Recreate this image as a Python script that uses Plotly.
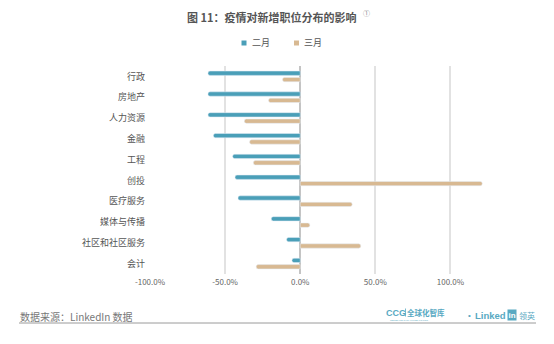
import plotly.graph_objects as go

# Job categories, top to bottom
categories = ["行政", "房地产", "人力资源", "金融", "工程", "创投",
              "医疗服务", "媒体与传播", "社区和社区服务", "会计"]
# Change in new job postings (%)
feb = [-61.4, -61.4, -61.4, -57.8, -45.0, -43.4, -41.4, -19.3, -9.1, -5.5]
mar = [-11.8, -21.1, -37.2, -33.7, -31.2, 121.2, 34.6, 6.4, 40.3, -29.3]
series_names = ["二月", "三月"]
x_ticks = [-100, -50, 0, 50, 100]
x_tick_text = ["-100.0%", "-50.0%", "0.0%", "50.0%", "100.0%"]

W, H = 554, 344
ML, MR, MT, MB = 150, 54, 66, 70
PW, PH = W - ML - MR, H - MT - MB

BLUE = "#4a9fb8"
TAN = "#d8b992"
TEAL = "#58a9c2"
FONT = "Noto Sans CJK SC"


def px(x):
    return (x - ML) / PW


def py(y):
    return (H - MB - y) / PH


fig = go.Figure()
for name, vals, col in zip(series_names, [feb, mar], [BLUE, TAN]):
    fig.add_trace(go.Bar(y=categories, x=vals, name=name, orientation="h",
                         marker=dict(color=col, cornerradius=2)))

annotations = [
    dict(x=px(271), y=py(17), text="<b>图 11：疫情对新增职位分布的影响</b>",
         font=dict(size=11, color="#555555", family=FONT)),
    dict(x=px(366), y=py(13), text="①",
         font=dict(size=7, color="#888888", family=FONT)),
    # legend entries
    dict(x=px(250), y=py(43), text=series_names[0], xanchor="left",
         font=dict(size=9, color="#555555", family=FONT)),
    dict(x=px(302), y=py(43), text=series_names[1], xanchor="left",
         font=dict(size=9, color="#555555", family=FONT)),
    # footer
    dict(x=px(18), y=py(316), text="数据来源：LinkedIn 数据", xanchor="left",
         font=dict(size=10, color="#777777", family=FONT)),
    dict(x=px(396), y=py(312.5), text="<b>CCG</b>",
         font=dict(size=9, color=TEAL, family="Liberation Sans")),
    dict(x=px(388), y=py(320), text="CENTER FOR CHINA &amp; GLOBALIZATION",
         xanchor="left", font=dict(size=2, color=TEAL, family="Liberation Sans")),
    dict(x=px(425.5), y=py(312.5), text="<b>全球化智库</b>",
         font=dict(size=7.5, color=TEAL, family=FONT)),
    dict(x=px(469), y=py(315), text="•",
         font=dict(size=8, color=TEAL, family="Liberation Sans")),
    dict(x=px(490), y=py(315), text="<b>Linked</b>",
         font=dict(size=9.5, color=TEAL, family="Liberation Sans")),
    dict(x=px(512), y=py(315), text="<b>in</b>", bgcolor=TEAL,
         font=dict(size=8, color="white", family="Liberation Sans"),
         borderpad=0.5),
    dict(x=px(527), y=py(315), text="领英",
         font=dict(size=8, color=TEAL, family=FONT)),
]
for a in annotations:
    a.update(xref="paper", yref="paper", showarrow=False)
    a.setdefault("xanchor", "center")
    a.setdefault("yanchor", "middle")

shapes = [
    # legend swatches
    dict(type="rect", xref="paper", yref="paper",
         x0=px(241.5), x1=px(246.5), y0=py(40.5), y1=py(45.5),
         fillcolor=BLUE, line=dict(width=0)),
    dict(type="rect", xref="paper", yref="paper",
         x0=px(294), x1=px(299), y0=py(40.5), y1=py(45.5),
         fillcolor=TAN, line=dict(width=0)),
    # separator in the CCG logo
    dict(type="line", xref="paper", yref="paper",
         x0=px(405.5), x1=px(405.5), y0=py(308.5), y1=py(316.5),
         line=dict(color=TEAL, width=0.8)),
    # footer rule
    dict(type="line", xref="paper", yref="paper",
         x0=px(19), x1=px(536), y0=py(323), y1=py(323),
         line=dict(color="#9a9a9a", width=1)),
]

fig.update_layout(
    width=W, height=H,
    margin=dict(l=ML, r=MR, t=MT, b=MB, pad=0),
    paper_bgcolor="white", plot_bgcolor="white",
    barmode="group", bargap=0.39, bargroupgap=0.32,
    font=dict(family=FONT, color="#555555"),
    showlegend=False,
    xaxis=dict(range=[-100, 133], tickvals=x_ticks, ticktext=x_tick_text,
               showgrid=True, gridcolor="#e2e2e2", gridwidth=1.5,
               zeroline=True, zerolinecolor="#c4c4c4", zerolinewidth=2,
               tickfont=dict(size=8, color="#666666"), ticks="",
               ticklabelstandoff=2, fixedrange=True),
    yaxis=dict(autorange="reversed", showgrid=False, zeroline=False,
               tickfont=dict(size=9, color="#555555"), ticks="",
               ticklabelstandoff=4),
    annotations=annotations,
    shapes=shapes,
)

fig.write_html("out.html")
